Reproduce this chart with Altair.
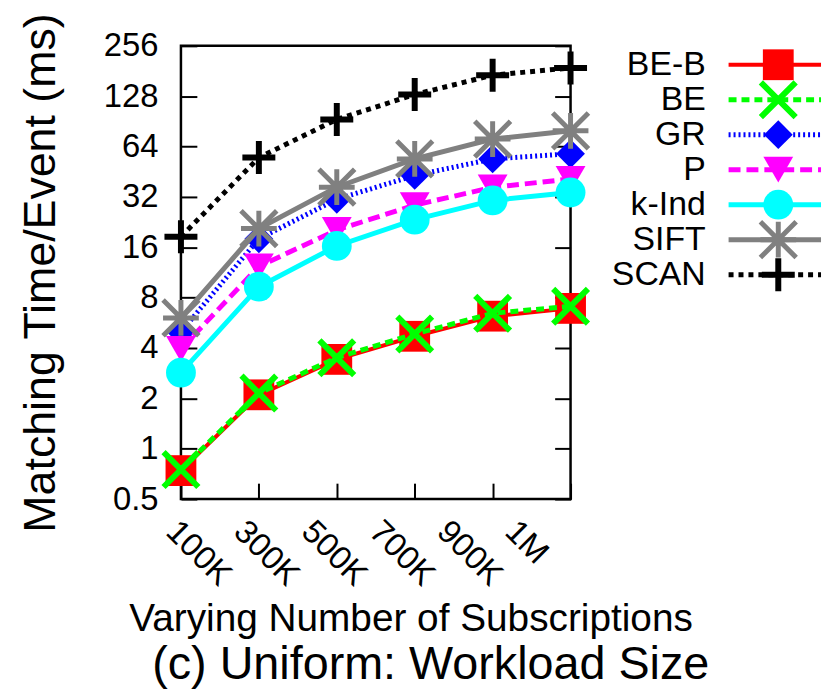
import altair as alt
import pandas as pd

categories = ["100K", "300K", "500K", "700K", "900K", "1M"]
series_names = ["BE-B", "BE", "GR", "P", "k-Ind", "SIFT", "SCAN"]

be_b = [0.74, 2.1, 3.42, 4.7, 6.2, 6.9]
be = [0.75, 2.15, 3.5, 4.85, 6.45, 7.1]
gr = [5.0, 18.0, 31.0, 43.0, 54.0, 58.0]
p = [3.95, 12.3, 20.3, 28.6, 36.5, 41.0]
k_ind = [2.85, 9.3, 16.3, 23.4, 30.5, 34.0]
sift = [6.05, 20.7, 36.6, 54.0, 71.0, 79.5]
scan = [18.5, 55.0, 93.0, 131.0, 171.0, 189.0]

y_ticks = [0.5, 1, 2, 4, 8, 16, 32, 64, 128, 256]

values = {"BE-B": be_b, "BE": be, "GR": gr, "P": p, "k-Ind": k_ind, "SIFT": sift, "SCAN": scan}

X_PATH = "M-1,-1L1,1M-1,1L1,-1"
PLUS_PATH = "M-1,0L1,0M0,-1L0,1"
STAR_PATH = "M-1,0L1,0M0,-1L0,1M-1,-1L1,1M-1,1L1,-1"

styles = {
    "BE-B": dict(color="#ff0000", width=4, dash=None, shape="square", size=960, filled=True, mw=0),
    "BE": dict(color="#00ff00", width=5, dash=[8, 5], shape=X_PATH, size=1225, filled=False, mw=6),
    "GR": dict(color="#0000ff", width=5, dash=[2, 3], shape="diamond", size=840, filled=True, mw=0),
    "P": dict(color="#ff00ff", width=5, dash=[12, 6], shape="triangle-down", size=900, filled=True, mw=0),
    "k-Ind": dict(color="#00ffff", width=5, dash=None, shape="circle", size=900, filled=True, mw=0),
    "SIFT": dict(color="#808080", width=5, dash=None, shape=STAR_PATH, size=1296, filled=False, mw=5),
    "SCAN": dict(color="#000000", width=5, dash=[5, 5], shape=PLUS_PATH, size=1100, filled=False, mw=6),
}

rows = []
for s in series_names:
    for c, v in zip(categories, values[s]):
        rows.append({"series": s, "cat": c, "val": v})
df = pd.DataFrame(rows)

FONT = "Liberation Sans"
W, H = 392, 456
TICK_FS = 33

xscale = alt.Scale(type="point", padding=0)
# label positions are slightly compressed toward the left, as in the reference
xlabel_scale = alt.Scale(type="point", padding=0, range=[-10, 331])
yscale = alt.Scale(type="log", base=2, domain=[0.5, 256], nice=False)

x_tick_axis = alt.Axis(
    orient="bottom", labels=False, title=None, offset=-16, tickSize=16, tickWidth=2,
    tickColor="black", domain=False, grid=False,
)
x_label_axis = alt.Axis(
    orient="bottom", ticks=False, tickSize=0, domain=False, grid=False,
    labelFontSize=TICK_FS, labelFont=FONT, labelAngle=45, labelAlign="left",
    labelBaseline="middle", labelPadding=27, labelColor="black", labelOverlap=False,
    title="Varying Number of Subscriptions", titleFontSize=39, titleFont=FONT,
    titleFontWeight="normal", titlePadding=8, titleColor="black", titleX=231,
)
x_enc = alt.X("cat:O", sort=categories, scale=xscale, axis=None)

left_axis = alt.Axis(
    orient="left", values=y_ticks, format="~g", offset=-16, tickSize=16, tickWidth=2,
    tickColor="black", domain=False, grid=False, labelPadding=23, labelFontSize=TICK_FS,
    labelFont=FONT, labelColor="black", title="Matching Time/Event (ms)", titleFontSize=45,
    titleFont=FONT, titleFontWeight="normal", titlePadding=40, titleColor="black",
)
right_axis = alt.Axis(
    orient="right", values=y_ticks, offset=-16, tickSize=16, tickWidth=2,
    tickColor="black", domain=False, grid=False, labels=False, title=None,
)

base = alt.Chart(df)
yenc = alt.Y("val:Q", scale=yscale, axis=None)
layers = [
    base.mark_point(opacity=0).encode(
        x=alt.X("cat:O", sort=categories, scale=xscale, axis=x_tick_axis),
        y=alt.Y("val:Q", scale=yscale, axis=left_axis),
    ),
    base.mark_point(opacity=0).encode(x=x_enc, y=alt.Y("val:Q", scale=yscale, axis=right_axis)),
    base.mark_point(opacity=0).encode(
        x=alt.X("cat:O", sort=categories, scale=xlabel_scale, axis=x_label_axis), y=yenc
    ),
]


def line_kwargs(st):
    kw = dict(color=st["color"], strokeWidth=st["width"])
    if st["dash"]:
        kw["strokeDash"] = st["dash"]
    return kw


def point_kwargs(st):
    if st["filled"]:
        return dict(shape=st["shape"], size=st["size"], filled=True, color=st["color"], opacity=1)
    return dict(shape=st["shape"], size=st["size"], filled=False, color=st["color"],
                strokeWidth=st["mw"], opacity=1)


for s in series_names:
    st = styles[s]
    sub = base.transform_filter(alt.datum.series == s)
    layers.append(sub.mark_line(**line_kwargs(st)).encode(x=x_enc, y=yenc))
    layers.append(sub.mark_point(**point_kwargs(st)).encode(x=x_enc, y=yenc))

main = (
    alt.layer(*layers)
    .resolve_scale(x="independent")
    .resolve_axis(x="independent", y="independent")
    .properties(width=W, height=H, view=alt.ViewBackground(stroke="black", strokeWidth=2.5))
)

# legend panel
LW = 213
legend_df = pd.DataFrame({"series": series_names, "row": list(range(len(series_names)))})
ly = alt.Y(
    "row:Q",
    scale=alt.Scale(domain=[-19 / 35.2, (H - 19) / 35.2], reverse=True, nice=False, zero=False),
    axis=None,
)
lbase = alt.Chart(legend_df)
llayers = [
    lbase.mark_text(align="right", baseline="middle", fontSize=34, font=FONT, color="black").encode(
        x=alt.value(97), y=ly, text="series:N"
    )
]
for s in series_names:
    st = styles[s]
    sub = lbase.transform_filter(alt.datum.series == s)
    llayers.append(sub.mark_rule(**line_kwargs(st)).encode(x=alt.value(120), x2=alt.value(LW), y=ly))
    llayers.append(sub.mark_point(**point_kwargs(st)).encode(x=alt.value(170), y=ly))

legend = alt.layer(*llayers).properties(
    width=LW, height=H, view=alt.ViewBackground(stroke="transparent")
)

chart = alt.hconcat(main, legend, spacing=39, bounds="flush").properties(
    title=alt.TitleParams(
        "(c) Uniform: Workload Size", orient="bottom", fontSize=47, font=FONT,
        fontWeight="normal", anchor="middle", dx=10, offset=2, color="black",
    ),
    padding={"left": 9, "top": 1, "right": 0, "bottom": 0},
)

chart.save("out.html", embed_options={"renderer": "svg", "actions": False})
